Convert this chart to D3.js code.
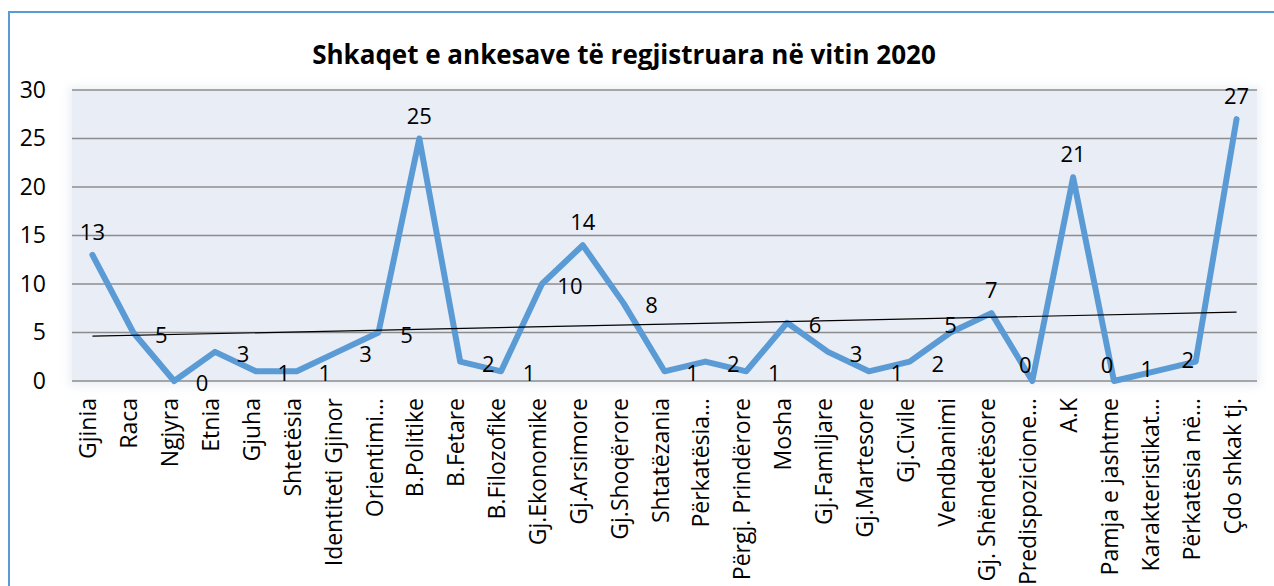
<!DOCTYPE html>
<html>
<head>
<meta charset="utf-8">
<script src="https://cdn.jsdelivr.net/npm/d3@7"></script>
<style>
  body { margin: 0; background: #fff; }
  svg { display: block; font-family: "Open Sans", sans-serif; }
</style>
</head>
<body>
<div id="chart"></div>
<script>
// categories (x axis) as shown in the picture, truncated ones keep the ellipsis
const categories = [
  "Gjinia", "Raca", "Ngjyra", "Etnia", "Gjuha", "Shtetësia", "Identiteti Gjinor",
  "Orientimi…", "B.Politike", "B.Fetare", "B.Filozofike", "Gj.Ekonomike",
  "Gj.Arsimore", "Gj.Shoqërore", "Shtatëzania", "Përkatësia…", "Përgj. Prindërore",
  "Mosha", "Gj.Familjare", "Gj.Martesore", "Gj.Civile", "Vendbanimi",
  "Gj. Shëndetësore", "Predispozicione…", "A.K", "Pamja e jashtme",
  "Karakteristikat…", "Përkatësia në…", "Çdo shkak tj."
];
const values = [13, 5, 0, 3, 1, 1, 3, 5, 25, 2, 1, 10, 14, 8, 1, 2, 1, 6, 3, 1, 2, 5, 7, 0, 21, 0, 1, 2, 27];
const yTicks = [0, 5, 10, 15, 20, 25, 30];
// where excel put each data label: t = above, r = right, l = left/up, lb = left/low, c = on point
const labelPlace = ["t","r","r","r","r","r","r","r","t","r","r","r","t","r","r","r","r","r","r","r","r","c","t","l","t","l","lb","lb","t"];

const W = 1274, H = 586;
const margin = { top: 90, right: 17, bottom: 205, left: 72 };
const width = W - margin.left - margin.right;
const height = H - margin.top - margin.bottom;

const svg = d3.select("#chart").append("svg")
    .attr("width", W)
    .attr("height", H);

// chart frame
svg.append("rect")
    .attr("x", 9).attr("y", 12)
    .attr("width", W + 20).attr("height", H + 20)
    .attr("fill", "none")
    .attr("stroke", "#5B9BD5")
    .attr("stroke-width", 2);

svg.append("text")
    .attr("x", 624).attr("y", 64)
    .attr("text-anchor", "middle")
    .style("font-size", "26px")
    .style("font-weight", "bold")
    .text("Shkaqet e ankesave të regjistruara në vitin 2020");

const defs = svg.append("defs");
const f = defs.append("filter").attr("id", "soft").attr("x", "-5%").attr("y", "-10%").attr("width", "110%").attr("height", "120%");
f.append("feGaussianBlur").attr("stdDeviation", 4);

const g = svg.append("g").attr("transform", `translate(${margin.left},${margin.top})`);

// plot area with a faint glow
g.append("rect")
    .attr("x", -3).attr("y", -3)
    .attr("width", width + 6).attr("height", height + 8)
    .attr("fill", "#dfe5ef")
    .attr("filter", "url(#soft)")
    .attr("opacity", 0.6);
g.append("rect")
    .attr("width", width).attr("height", height)
    .attr("fill", "#E9EDF5");

const x = d3.scaleBand()
    .domain(categories)
    .range([0, width]);

const y = d3.scaleLinear()
    .domain([0, 30])
    .range([height, 0]);

// gridlines
g.selectAll(".grid")
    .data(yTicks)
    .enter()
    .append("line")
    .attr("class", "grid")
    .attr("x1", 0).attr("x2", width)
    .attr("y1", d => y(d)).attr("y2", d => y(d))
    .attr("stroke", "#8C8C8C")
    .attr("stroke-width", 1.3);

// y axis labels
const yAxis = g.append("g")
    .call(d3.axisLeft(y).tickValues(yTicks).tickSize(0).tickPadding(26));
yAxis.select(".domain").remove();
yAxis.selectAll("text")
    .style("font-family", "Open Sans, sans-serif")
    .style("font-size", "23px")
    .attr("fill", "#000");

// x axis labels, rotated
const xAxis = g.append("g")
    .attr("transform", `translate(0,${height})`)
    .call(d3.axisBottom(x).tickSize(0));
xAxis.select(".domain").remove();
xAxis.selectAll("text")
    .style("font-family", "Open Sans, sans-serif")
    .style("font-size", "23px")
    .attr("fill", "#000")
    .attr("transform", "rotate(-90)")
    .attr("text-anchor", "end")
    .attr("x", -17)
    .attr("y", -4)
    .attr("dy", "0.35em");

const cx = d => x(d) + x.bandwidth() / 2;

// the series line
const line = d3.line()
    .x((d, i) => cx(categories[i]))
    .y(d => y(d));

g.append("path")
    .datum(values)
    .attr("fill", "none")
    .attr("stroke", "#5B9BD5")
    .attr("stroke-width", 6)
    .attr("stroke-linejoin", "round")
    .attr("stroke-linecap", "round")
    .attr("d", line);

// linear trendline (least squares)
const n = values.length;
const mx = d3.mean(values, (d, i) => i);
const my = d3.mean(values);
const slope = d3.sum(values, (d, i) => (i - mx) * (d - my)) / d3.sum(values, (d, i) => (i - mx) * (i - mx));
const icpt = my - slope * mx;
g.append("line")
    .attr("x1", cx(categories[0]))
    .attr("y1", y(icpt))
    .attr("x2", cx(categories[n - 1]))
    .attr("y2", y(icpt + slope * (n - 1)))
    .attr("stroke", "#000")
    .attr("stroke-width", 1.2);

// data labels
g.selectAll(".lbl")
    .data(values)
    .enter()
    .append("text")
    .attr("class", "lbl")
    .style("font-size", "22px")
    .attr("text-anchor", "middle")
    .attr("x", (d, i) => {
        const p = labelPlace[i];
        if (p === "r") return cx(categories[i]) + 28;
        if (p === "l") return cx(categories[i]) - 7;
        if (p === "lb") return cx(categories[i]) - 8;
        return cx(categories[i]);
    })
    .attr("y", (d, i) => {
        const p = labelPlace[i];
        if (p === "t") return y(d) - 15;
        if (p === "r") return y(d) + 10;
        if (p === "l") return y(d) - 8;
        if (p === "lb") return y(d) + 6;
        return y(d);
    })
    .text(d => d);
</script>
</body>
</html>
